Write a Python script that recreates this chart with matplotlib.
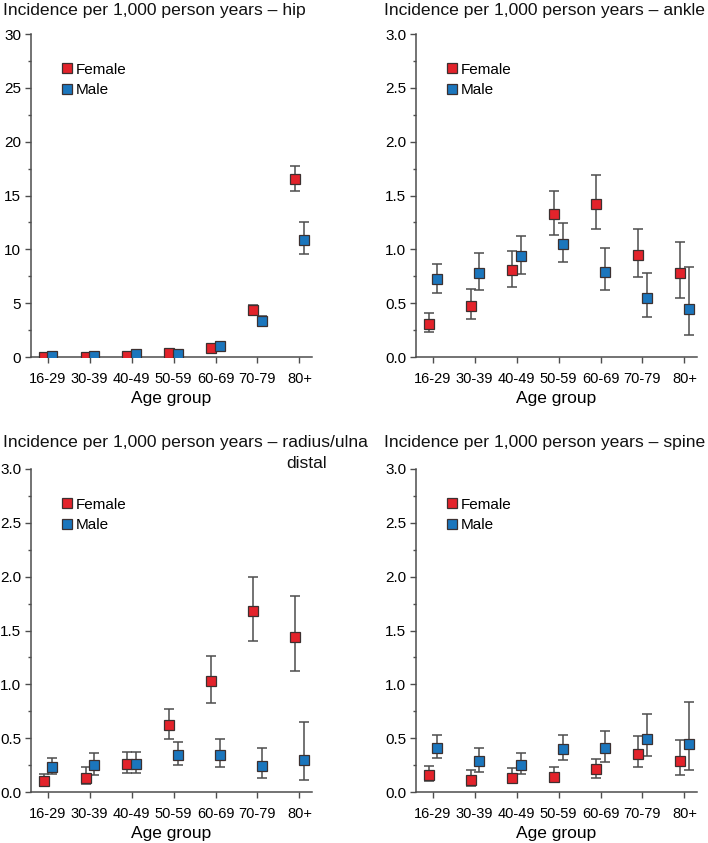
import matplotlib
matplotlib.use("Agg")
import matplotlib.pyplot as plt
from matplotlib.lines import Line2D
import numpy as np

plt.rcParams["font.family"] = ["Liberation Sans", "DejaVu Sans"]

age_groups = ["16-29", "30-39", "40-49", "50-59", "60-69", "70-79", "80+"]

# hip
hip_f = [0.0, 0.0, 0.1, 0.35, 0.8, 4.35, 16.5]
hip_f_lo = [0.0, 0.0, 0.0, 0.2, 0.6, 3.9, 15.4]
hip_f_hi = [0.1, 0.1, 0.2, 0.5, 1.0, 4.8, 17.7]
hip_m = [0.05, 0.1, 0.25, 0.25, 1.0, 3.3, 10.9]
hip_m_lo = [0.0, 0.0, 0.1, 0.1, 0.8, 2.9, 9.55]
hip_m_hi = [0.15, 0.2, 0.4, 0.4, 1.2, 3.8, 12.5]

# ankle
ankle_f = [0.31, 0.47, 0.81, 1.33, 1.42, 0.95, 0.78]
ankle_f_lo = [0.23, 0.35, 0.65, 1.13, 1.19, 0.74, 0.55]
ankle_f_hi = [0.41, 0.63, 0.98, 1.54, 1.69, 1.19, 1.07]
ankle_m = [0.72, 0.78, 0.94, 1.05, 0.79, 0.55, 0.45]
ankle_m_lo = [0.59, 0.62, 0.77, 0.88, 0.62, 0.37, 0.20]
ankle_m_hi = [0.86, 0.97, 1.12, 1.24, 1.01, 0.78, 0.84]

# radius/ulna distal
radius_f = [0.10, 0.13, 0.26, 0.62, 1.03, 1.68, 1.44]
radius_f_lo = [0.06, 0.07, 0.18, 0.49, 0.83, 1.40, 1.12]
radius_f_hi = [0.17, 0.23, 0.37, 0.77, 1.26, 2.00, 1.82]
radius_m = [0.23, 0.25, 0.26, 0.34, 0.34, 0.24, 0.30]
radius_m_lo = [0.17, 0.16, 0.18, 0.25, 0.23, 0.13, 0.11]
radius_m_hi = [0.32, 0.36, 0.37, 0.46, 0.49, 0.41, 0.65]

# spine
spine_f = [0.16, 0.11, 0.13, 0.14, 0.21, 0.35, 0.29]
spine_f_lo = [0.10, 0.06, 0.08, 0.09, 0.13, 0.23, 0.16]
spine_f_hi = [0.24, 0.20, 0.22, 0.23, 0.31, 0.52, 0.48]
spine_m = [0.41, 0.29, 0.25, 0.40, 0.41, 0.49, 0.45]
spine_m_lo = [0.32, 0.19, 0.17, 0.30, 0.28, 0.33, 0.20]
spine_m_hi = [0.53, 0.41, 0.36, 0.53, 0.57, 0.72, 0.84]

RED = "#e3232b"
BLUE = "#1b76bd"
EDGE = "#3c3030"
GREY = "#4d4d4d"


def draw_series(ax, x, y, lo, hi, color):
    y = np.array(y)
    err = [y - np.array(lo), np.array(hi) - y]
    ax.errorbar(x, y, yerr=err, fmt="none", ecolor=GREY, elinewidth=1.1,
                capsize=3.4, capthick=1.1, zorder=2)
    ax.plot(x, y, "s", ms=7.2, mfc=color, mec=EDGE, mew=0.9, zorder=3)


def panel(fig, rect, female, male, ymax, major, minor):
    ax = fig.add_axes(rect)
    x = np.arange(len(age_groups))
    draw_series(ax, x - 0.1, *female, RED)
    draw_series(ax, x + 0.1, *male, BLUE)

    ax.set_xlim(-0.4, 6.3)
    ax.set_ylim(0, ymax)
    ax.set_xticks(x)
    ax.set_xticklabels(age_groups)
    ax.set_yticks(major)
    ax.set_yticks(minor, minor=True)
    for s in ["top", "right"]:
        ax.spines[s].set_visible(False)
    for s in ["left", "bottom"]:
        ax.spines[s].set_color(GREY)
        ax.spines[s].set_linewidth(1.1)
    ax.tick_params(axis="both", which="major", direction="out", length=4,
                   width=1, color=GREY, labelsize=10.5)
    ax.tick_params(axis="y", which="major", pad=3, labelsize=11)
    ax.tick_params(axis="x", which="major", pad=6.5)
    ax.tick_params(axis="y", which="minor", length=2.5, width=1, color=GREY)
    ax.set_xlabel("Age group", fontsize=12.5, labelpad=4)

    handles = [
        Line2D([], [], ls="none", marker="s", ms=7.2, mfc=RED, mec=EDGE, mew=0.9),
        Line2D([], [], ls="none", marker="s", ms=7.2, mfc=BLUE, mec=EDGE, mew=0.9),
    ]
    ax.legend(handles, ["Female", "Male"], loc="upper left",
              bbox_to_anchor=(0.113, 0.911), frameon=False, fontsize=11,
              handlelength=0.6, handletextpad=0.25, labelspacing=0.4,
              borderpad=0, borderaxespad=0)
    return ax


fig = plt.figure(figsize=(7.08, 8.43), dpi=100)

W, H = 708, 843


def rect(x0, x1, ytop, ybot):
    return [x0 / W, 1 - ybot / H, (x1 - x0) / W, (ybot - ytop) / H]


half = [0, 0.5, 1.0, 1.5, 2.0, 2.5, 3.0]
half_minor = [0.25, 0.75, 1.25, 1.75, 2.25, 2.75]

panel(fig, rect(31, 312, 34, 357),
      (hip_f, hip_f_lo, hip_f_hi), (hip_m, hip_m_lo, hip_m_hi),
      30, [0, 5, 10, 15, 20, 25, 30], [2.5, 7.5, 12.5, 17.5, 22.5, 27.5])
panel(fig, rect(416, 697, 34, 357),
      (ankle_f, ankle_f_lo, ankle_f_hi), (ankle_m, ankle_m_lo, ankle_m_hi),
      3.0, half, half_minor)
panel(fig, rect(31, 312, 469, 792),
      (radius_f, radius_f_lo, radius_f_hi), (radius_m, radius_m_lo, radius_m_hi),
      3.0, half, half_minor)
panel(fig, rect(416, 697, 469, 792),
      (spine_f, spine_f_lo, spine_f_hi), (spine_m, spine_m_lo, spine_m_hi),
      3.0, half, half_minor)

for ax in fig.axes[1:]:
    ax.yaxis.set_major_formatter(matplotlib.ticker.FormatStrFormatter("%.1f"))

title_kw = dict(fontsize=12.6, va="center", ha="left", color="#111111")
fig.text(3 / W, 1 - 10 / H, "Incidence per 1,000 person years – hip", **title_kw)
fig.text(384 / W, 1 - 10 / H, "Incidence per 1,000 person years – ankle", **title_kw)
fig.text(3 / W, 1 - 443 / H, "Incidence per 1,000 person years – radius/ulna", **title_kw)
fig.text(307 / W, 1 - 463 / H, "distal", fontsize=12.6, va="center", ha="center",
         color="#111111")
fig.text(384 / W, 1 - 443 / H, "Incidence per 1,000 person years – spine", **title_kw)

fig.savefig("out.png", dpi=100)
